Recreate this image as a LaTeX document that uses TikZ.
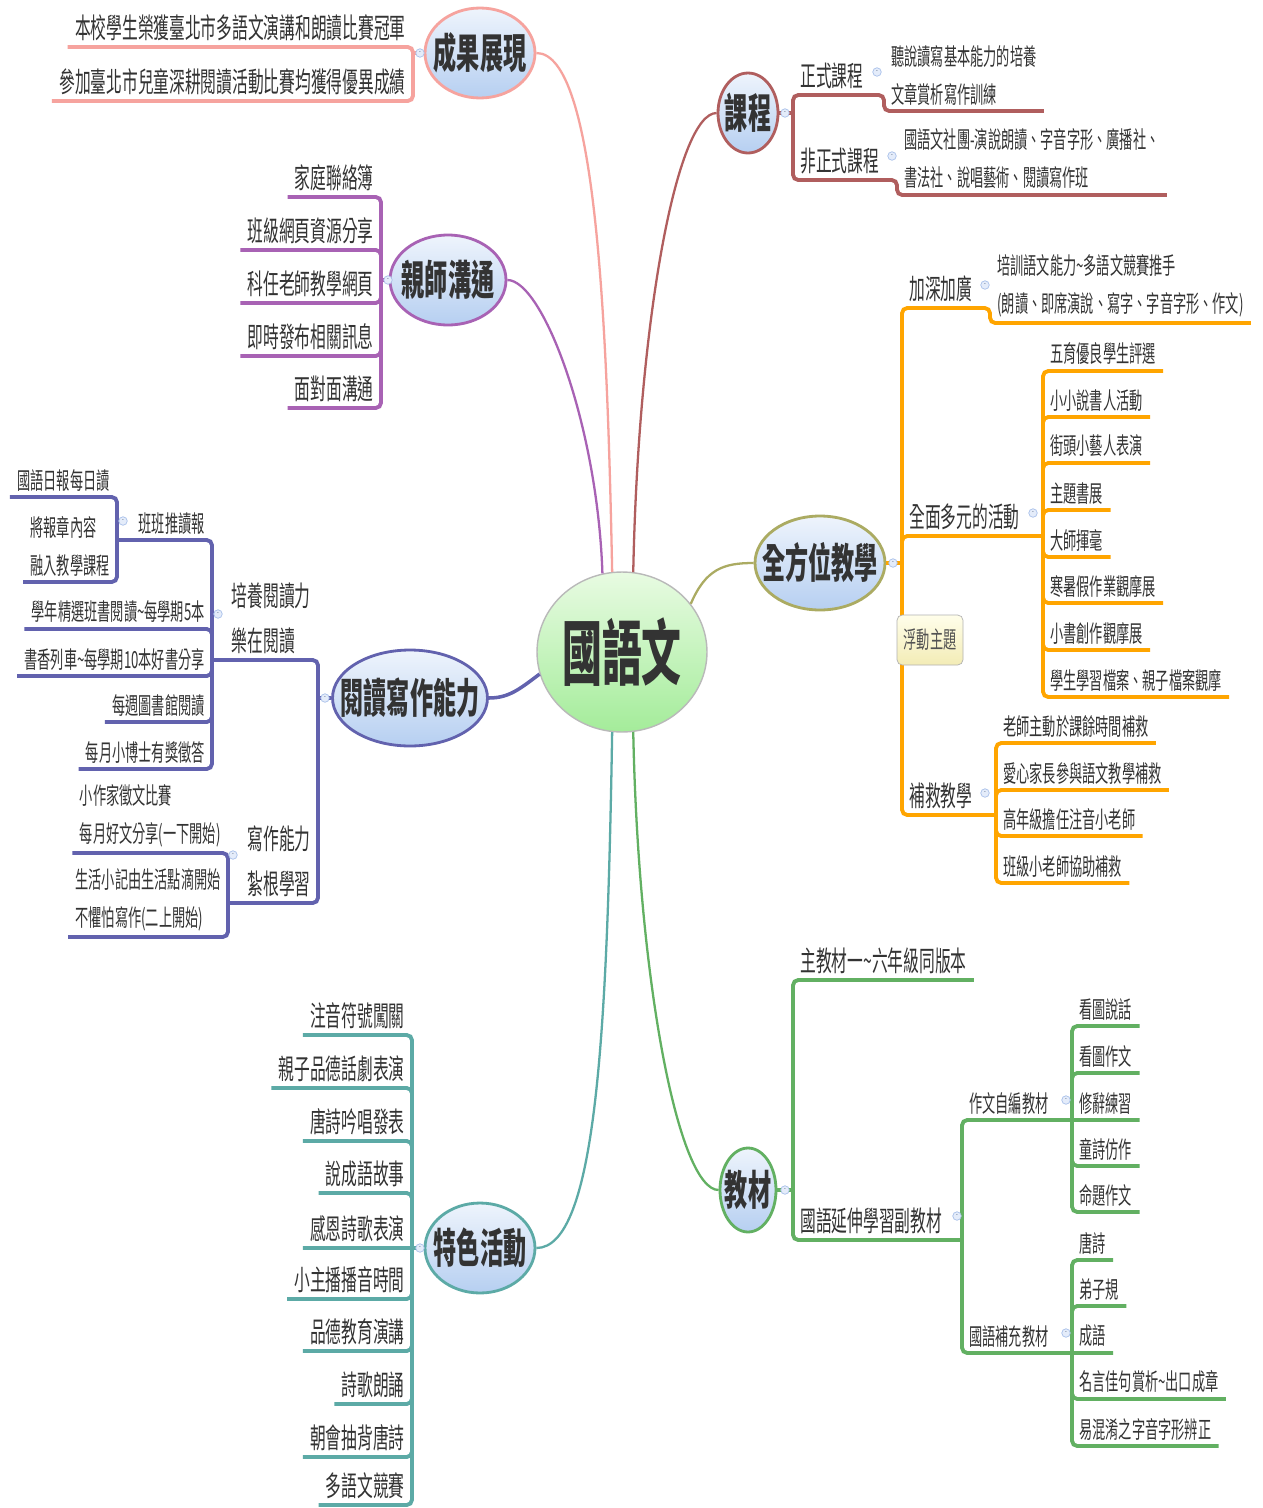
\documentclass[tikz,border=0pt]{standalone}
\usepackage{fontspec}
\setmainfont{Noto Sans CJK TC}[FakeStretch=0.56]
\usetikzlibrary{shapes.geometric}
\definecolor{txt}{HTML}{333333}
\definecolor{pk}{HTML}{F6A39E}
\definecolor{pp}{HTML}{A862B4}
\definecolor{sb}{HTML}{6262AE}
\definecolor{cr}{HTML}{B05E5E}
\definecolor{og}{HTML}{FFA500}
\definecolor{ol}{HTML}{ABAB62}
\definecolor{tl}{HTML}{5CAAA6}
\definecolor{gr}{HTML}{62B062}
\definecolor{tpa}{HTML}{EEF4FC}
\definecolor{tpb}{HTML}{B6CFF1}
\definecolor{rta}{HTML}{E8FBE2}
\definecolor{rtb}{HTML}{A4EC9A}
\definecolor{fla}{HTML}{FFFEEA}
\definecolor{flb}{HTML}{F3ECB6}
\definecolor{fda}{HTML}{E4ECFA}
\definecolor{fdb}{HTML}{A9C1EA}
\newcommand{\fbig}{\fontsize{16}{25.5}\selectfont}
\newcommand{\fsml}{\fontsize{13.4}{21.5}\selectfont}
\newcommand{\nowd}[1]{\makebox[0pt]{#1}}

\begin{document}
\begin{tikzpicture}[x=0.02cm, y=-0.02cm,
    lf/.style={inner xsep=4pt, inner ysep=3.2pt, align=left, text=txt, font=\fsml},
    subt/.style={lf, font=\fbig},
    topic/.style={ellipse, inner sep=0pt, line width=1.6pt, top color=tpa, bottom color=tpb, text=txt, font=\bfseries\fontsize{23.5}{23.5}\selectfont},
    fold/.style={circle, inner sep=0pt, minimum size=0.17cm, draw=fdb, fill=fda, text=fdb!60!black, font=\fontsize{5}{5}\selectfont},
    br/.style={line width=2.2pt, rounded corners=3pt},
    lk/.style={line width=1.3pt}]
    \fill[white] (0,0) rectangle (1262,1508);
    \useasboundingbox (0,0) rectangle (1262,1508);

    \node[ellipse, minimum width=3.4cm, minimum height=3.2cm, inner sep=0pt, draw=gray!55, line width=0.8pt, top color=rta, bottom color=rtb, text=txt, font=\bfseries\fontsize{40.5}{40.5}\selectfont] (root) at (622,652) {\nowd{國語文}};

    \node[topic, draw=pk, minimum width=2.2cm, minimum height=1.8cm] (ach) at (480,53) {\nowd{成果展現}};
    \node[topic, draw=pp, minimum width=2.32cm, minimum height=1.8cm] (par) at (448,280) {\nowd{親師溝通}};
    \node[topic, draw=cr, minimum width=1.2cm, minimum height=1.6cm] (cur) at (748,113) {\nowd{課程}};
    \node[topic, draw=ol, minimum width=2.6cm, minimum height=1.88cm] (all) at (820,563) {\nowd{全方位教學}};
    \node[topic, draw=sb, minimum width=3.1cm, minimum height=1.92cm] (rw) at (410,698) {\nowd{閱讀寫作能力}};
    \node[topic, draw=gr, minimum width=1.12cm, minimum height=1.68cm] (mat) at (748,1190) {\nowd{教材}};
    \node[topic, draw=tl, minimum width=2.2cm, minimum height=1.8cm] (fea) at (480,1248) {\nowd{特色活動}};

    \draw[lk, pk] (root.97) .. controls +(-5,-250) and +(60,0) .. (ach.east);
    \draw[lk, pp] (root.104) .. controls +(-5,-150) and +(35,0) .. (par.east);
    \draw[lk, cr] (root.82) .. controls +(5,-250) and +(-40,0) .. (cur.west);
    \draw[lk, ol] (root.35) .. controls +(15,-35) and +(-30,0) .. (all.west);
    \draw[lk, sb, line width=2pt] (root.195) .. controls +(-20,15) and +(20,0) .. (rw.east);
    \draw[lk, gr] (root.278) .. controls +(5,250) and +(-40,0) .. (mat.west);
    \draw[lk, tl] (root.263) .. controls +(-5,300) and +(60,0) .. (fea.east);

    % 成果展現
    \coordinate (achj) at (413,53);
    \node[subt, anchor=south east] (a1) at (413,47) {本校學生榮獲臺北市多語文演講和朗讀比賽冠軍};
    \node[subt, anchor=south east] (a2) at (413,101) {參加臺北市兒童深耕閱讀活動比賽均獲得優異成績};
    \draw[br, pk] (ach) -- (achj);
    \draw[br, pk] (achj) |- (a1.south west) (achj) |- (a2.south west);

    % 親師溝通
    \coordinate (parj) at (381,280);
    \node[subt, anchor=south east] (p1) at (381,197) {家庭聯絡簿};
    \node[subt, anchor=south east] (p2) at (381,250) {班級網頁資源分享};
    \node[subt, anchor=south east] (p3) at (381,303) {科任老師教學網頁};
    \node[subt, anchor=south east] (p4) at (381,356) {即時發布相關訊息};
    \node[subt, anchor=south east] (p5) at (381,408) {面對面溝通};
    \draw[br, pp] (par) -- (parj);
    \draw[br, pp] (parj) |- (p1.south west) (parj) |- (p2.south west) (parj) |- (p3.south west) (parj) |- (p4.south west) (parj) |- (p5.south west);

    % 課程
    \coordinate (curj) at (793,113);
    \node[subt, anchor=south west] (c1) at (793,95) {正式課程};
    \node[subt, anchor=south west] (c2) at (793,180) {非正式課程};
    \coordinate (c1j) at (884,95);
    \coordinate (c2j) at (897,180);
    \node[lf, anchor=south west] (c11) at (884,111) {聽說讀寫基本能力的培養\\文章賞析寫作訓練};
    \node[lf, anchor=south west] (c21) at (897,195) {國語文社團-演說朗讀、字音字形、廣播社、\\書法社、說唱藝術、閱讀寫作班};
    \draw[br, cr] (cur) -- (curj);
    \draw[br, cr] (curj) |- (c1j) -- (c11.south west) -- (c11.south east);
    \draw[br, cr] (curj) |- (c2j) -- (c21.south west) -- (c21.south east);

    % 全方位教學
    \coordinate (allj) at (902,563);
    \node[subt, anchor=south west] (o1) at (902,308) {加深加廣};
    \node[subt, anchor=south west] (o2) at (902,536) {全面多元的活動};
    \node[subt, anchor=south west] (o3) at (902,815) {補救教學};
    \coordinate (o1j) at (990,308);
    \coordinate (o2j) at (1043,536);
    \coordinate (o3j) at (996,815);
    \node[lf, anchor=south west] (o11) at (990,323) {培訓語文能力\textasciitilde 多語文競賽推手\\(朗讀、即席演說、寫字、字音字形、作文)};
    \node[lf, anchor=south west] (o21) at (1043,371) {五育優良學生評選};
    \node[lf, anchor=south west] (o22) at (1043,417) {小小說書人活動};
    \node[lf, anchor=south west] (o23) at (1043,463) {街頭小藝人表演};
    \node[lf, anchor=south west] (o24) at (1043,510) {主題書展};
    \node[lf, anchor=south west] (o25) at (1043,557) {大師揮毫};
    \node[lf, anchor=south west] (o26) at (1043,603) {寒暑假作業觀摩展};
    \node[lf, anchor=south west] (o27) at (1043,650) {小書創作觀摩展};
    \node[lf, anchor=south west] (o28) at (1043,697) {學生學習檔案、親子檔案觀摩};
    \node[lf, anchor=south west] (o31) at (996,743) {老師主動於課餘時間補救};
    \node[lf, anchor=south west] (o32) at (996,790) {愛心家長參與語文教學補救};
    \node[lf, anchor=south west] (o33) at (996,836) {高年級擔任注音小老師};
    \node[lf, anchor=south west] (o34) at (996,883) {班級小老師協助補救};
    \draw[br, og] (all) -- (allj);
    \draw[br, og] (allj) |- (o1j) -- (o11.south west) -- (o11.south east);
    \draw[br, og] (allj) |- (o2j) (allj) |- (o3j);
    \draw[br, og] (o2j) |- (o21.south east) (o2j) |- (o22.south east) (o2j) |- (o23.south east) (o2j) |- (o24.south east) (o2j) |- (o25.south east) (o2j) |- (o26.south east) (o2j) |- (o27.south east) (o2j) |- (o28.south east);
    \draw[br, og] (o3j) |- (o31.south east) (o3j) |- (o32.south east) (o3j) |- (o33.south east) (o3j) |- (o34.south east);
    \node[draw=gray!60, rounded corners=3pt, top color=fla, bottom color=flb, minimum width=1.32cm, minimum height=1cm, inner sep=2pt, text=txt!85, font=\fsml] (flt) at (930,640) {浮動主題};

    % 閱讀寫作能力
    \coordinate (rwj) at (318,698);
    \node[subt, anchor=south east] (r1) at (318,660) {培養閱讀力\\樂在閱讀};
    \node[subt, anchor=south east] (r2) at (318,903) {寫作能力\\紮根學習};
    \coordinate (r1j) at (212,660);
    \coordinate (r2j) at (228,903);
    \node[lf, anchor=south east] (r11) at (212,540) {班班推讀報};
    \coordinate (r11j) at (117,540);
    \node[lf, anchor=south east] (r111) at (117,497) {國語日報每日讀};
    \node[lf, anchor=south east] (r112) at (117,582) {將報章內容\\融入教學課程};
    \node[lf, anchor=south east] (r12) at (212,629) {學年精選班書閱讀\textasciitilde 每學期5本};
    \node[lf, anchor=south east] (r13) at (212,676) {書香列車\textasciitilde 每學期10本好書分享};
    \node[lf, anchor=south east] (r14) at (212,722) {每週圖書館閱讀};
    \node[lf, anchor=south east] (r15) at (212,769) {每月小博士有獎徵答};
    \node[lf, anchor=south east] (r21) at (228,853) {小作家徵文比賽\\每月好文分享(一下開始)};
    \node[lf, anchor=south east] (r22) at (228,937) {生活小記由生活點滴開始\\不懼怕寫作(二上開始)};
    \draw[br, sb] (rw) -- (rwj);
    \draw[br, sb] (rwj) |- (r1j) (rwj) |- (r2j);
    \draw[br, sb] (r1j) |- (r11j) (r1j) |- (r12.south west) (r1j) |- (r13.south west) (r1j) |- (r14.south west) (r1j) |- (r15.south west);
    \draw[br, sb] (r11j) |- (r111.south west) (r11j) |- (r112.south west);
    \draw[br, sb] (r2j) |- (r21.south west) (r2j) |- (r22.south west);

    % 特色活動
    \coordinate (feaj) at (412,1248);
    \node[subt, anchor=south east] (t1) at (412,1035) {注音符號闖關};
    \node[subt, anchor=south east] (t2) at (412,1088) {親子品德話劇表演};
    \node[subt, anchor=south east] (t3) at (412,1141) {唐詩吟唱發表};
    \node[subt, anchor=south east] (t4) at (412,1193) {說成語故事};
    \node[subt, anchor=south east] (t5) at (412,1248) {感恩詩歌表演};
    \node[subt, anchor=south east] (t6) at (412,1299) {小主播播音時間};
    \node[subt, anchor=south east] (t7) at (412,1351) {品德教育演講};
    \node[subt, anchor=south east] (t8) at (412,1404) {詩歌朗誦};
    \node[subt, anchor=south east] (t9) at (412,1457) {朝會抽背唐詩};
    \node[subt, anchor=south east] (t10) at (412,1505) {多語文競賽};
    \draw[br, tl] (fea) -- (feaj);
    \draw[br, tl] (feaj) |- (t1.south west) (feaj) |- (t2.south west) (feaj) |- (t3.south west) (feaj) |- (t4.south west) (feaj) -- (t5.south west) (feaj) |- (t6.south west) (feaj) |- (t7.south west) (feaj) |- (t8.south west) (feaj) |- (t9.south west) (feaj) |- (t10.south west);

    % 教材
    \coordinate (matj) at (793,1190);
    \node[subt, anchor=south west] (m1) at (793,980) {主教材一\textasciitilde 六年級同版本};
    \node[subt, anchor=south west] (m2) at (793,1240) {國語延伸學習副教材};
    \coordinate (m2j) at (962,1240);
    \node[lf, anchor=south west] (m21) at (962,1120) {作文自編教材};
    \node[lf, anchor=south west] (m22) at (962,1353) {國語補充教材};
    \coordinate (m21j) at (1072,1120);
    \coordinate (m22j) at (1072,1353);
    \node[lf, anchor=south west] (m211) at (1072,1026) {看圖說話};
    \node[lf, anchor=south west] (m212) at (1072,1073) {看圖作文};
    \node[lf, anchor=south west] (m213) at (1072,1120) {修辭練習};
    \node[lf, anchor=south west] (m214) at (1072,1166) {童詩仿作};
    \node[lf, anchor=south west] (m215) at (1072,1212) {命題作文};
    \node[lf, anchor=south west] (m221) at (1072,1260) {唐詩};
    \node[lf, anchor=south west] (m222) at (1072,1306) {弟子規};
    \node[lf, anchor=south west] (m223) at (1072,1353) {成語};
    \node[lf, anchor=south west] (m224) at (1072,1399) {名言佳句賞析\textasciitilde 出口成章};
    \node[lf, anchor=south west] (m225) at (1072,1446) {易混淆之字音字形辨正};
    \draw[br, gr] (mat) -- (matj);
    \draw[br, gr] (matj) |- (m1.south east) (matj) |- (m2j);
    \draw[br, gr] (m2j) |- (m21j) (m2j) |- (m22j);
    \draw[br, gr] (m21j) |- (m211.south east) (m21j) |- (m212.south east) (m21j) -- (m213.south east) (m21j) |- (m214.south east) (m21j) |- (m215.south east);
    \draw[br, gr] (m22j) |- (m221.south east) (m22j) |- (m222.south east) (m22j) -- (m223.south east) (m22j) |- (m224.south east) (m22j) |- (m225.south east);

    % fold marks
    \node[fold] (achf) at (420,53) {-};
    \node[fold] (parf) at (388,280) {-};
    \node[fold] (curf) at (785,113) {-};
    \node[fold] (c1f) at (877,72) {-};
    \node[fold] (c2f) at (892,156) {-};
    \node[fold] (allf) at (893,563) {-};
    \node[fold] (o1f) at (985,285) {-};
    \node[fold] (o2f) at (1033,513) {-};
    \node[fold] (o3f) at (985,793) {-};
    \node[fold] (rwf) at (325,698) {-};
    \node[fold] (r1f) at (218,614) {-};
    \node[fold] (r11f) at (123,521) {-};
    \node[fold] (r2f) at (233,855) {-};
    \node[fold] (feaf) at (420,1248) {-};
    \node[fold] (matf) at (785,1190) {-};
    \node[fold] (m2f) at (957,1216) {-};
    \node[fold] (m21f) at (1066,1100) {-};
    \node[fold] (m22f) at (1066,1333) {-};
\end{tikzpicture}
\end{document}
